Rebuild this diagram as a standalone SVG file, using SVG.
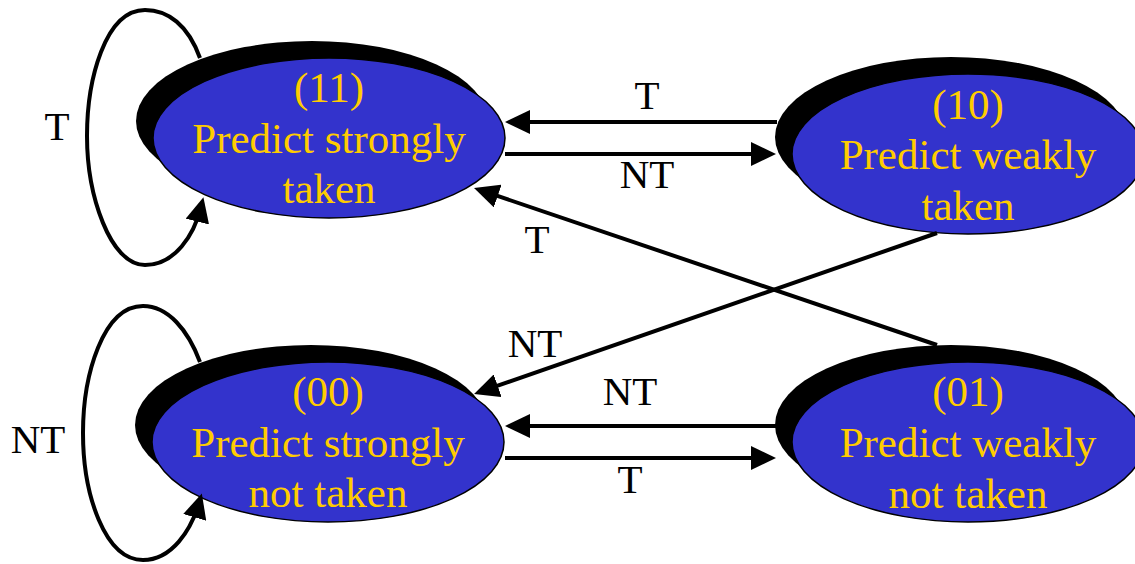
<svg xmlns="http://www.w3.org/2000/svg" width="1135" height="564" viewBox="0 0 1135 564">
  <style>
    .shadow { fill: #000000; }
    .state { fill: #3333CC; stroke: #000000; stroke-width: 1.5; }
    .stext { font-family: "Liberation Serif", "Times New Roman", serif; font-size: 43px; fill: #FFCC00; text-anchor: middle; }
    .edge { fill: none; stroke: #000000; stroke-width: 4; marker-end: url(#arrow); }
    .label { font-family: "Liberation Serif", "Times New Roman", serif; font-size: 41px; fill: #000000; text-anchor: middle; }
  </style>
  <defs>
    <marker id="arrow" viewBox="0 0 25 24" markerWidth="25" markerHeight="24" refX="15" refY="12" orient="auto" markerUnits="userSpaceOnUse">
      <path d="M0,0 L25,12 L0,24 Z" fill="#000000"/>
    </marker>
  </defs>

  <rect width="1135" height="564" fill="#FFFFFF"/>

  <!-- states -->
  <g id="state-11">
    <ellipse class="shadow" cx="312" cy="121" rx="176" ry="80"/>
    <ellipse class="state" cx="329" cy="138" rx="176" ry="80"/>
    <text class="stext" x="329" y="102">(11)</text>
    <text class="stext" x="329" y="153">Predict strongly</text>
    <text class="stext" x="329" y="203">taken</text>
  </g>
  <g id="state-10">
    <ellipse class="shadow" cx="951" cy="137" rx="176" ry="80"/>
    <ellipse class="state" cx="968" cy="154" rx="176" ry="80"/>
    <text class="stext" x="968" y="119">(10)</text>
    <text class="stext" x="968" y="169">Predict weakly</text>
    <text class="stext" x="968" y="220">taken</text>
  </g>
  <g id="state-00">
    <ellipse class="shadow" cx="311" cy="425" rx="176" ry="80"/>
    <ellipse class="state" cx="328" cy="442" rx="176" ry="80"/>
    <text class="stext" x="328" y="406">(00)</text>
    <text class="stext" x="328" y="457">Predict strongly</text>
    <text class="stext" x="328" y="507">not taken</text>
  </g>
  <g id="state-01">
    <ellipse class="shadow" cx="951" cy="425" rx="176" ry="80"/>
    <ellipse class="state" cx="968" cy="442" rx="176" ry="80"/>
    <text class="stext" x="968" y="406">(01)</text>
    <text class="stext" x="968" y="457">Predict weakly</text>
    <text class="stext" x="968" y="508">not taken</text>
  </g>

  <!-- transitions -->
  <g id="connectors">
    <path class="edge" d="M200 58 C188 25 168 10 145 10 C105 10 87 80 87 136 C87 195 110 265 145 265 C175 265 194 235 201 207"/>
    <path class="edge" d="M200 362 C188 330 168 306 143 306 C103 306 83 375 83 433 C83 495 105 560 143 560 C172 560 191 530 199 503"/>
    <path class="edge" d="M777 122 L515 122"/>
    <path class="edge" d="M505 154 L766 154"/>
    <path class="edge" d="M777 426 L515 426"/>
    <path class="edge" d="M505 458 L766 458"/>
    <path class="edge" d="M937 345 L483.5 191.2"/>
    <path class="edge" d="M937 233 L483.5 390.7"/>
    <text class="label" x="57" y="140">T</text>
    <text class="label" x="38" y="453">NT</text>
    <text class="label" x="647" y="109">T</text>
    <text class="label" x="647" y="188">NT</text>
    <text class="label" x="537" y="253">T</text>
    <text class="label" x="535" y="357">NT</text>
    <text class="label" x="630" y="405">NT</text>
    <text class="label" x="630" y="493">T</text>
  </g>
</svg>
